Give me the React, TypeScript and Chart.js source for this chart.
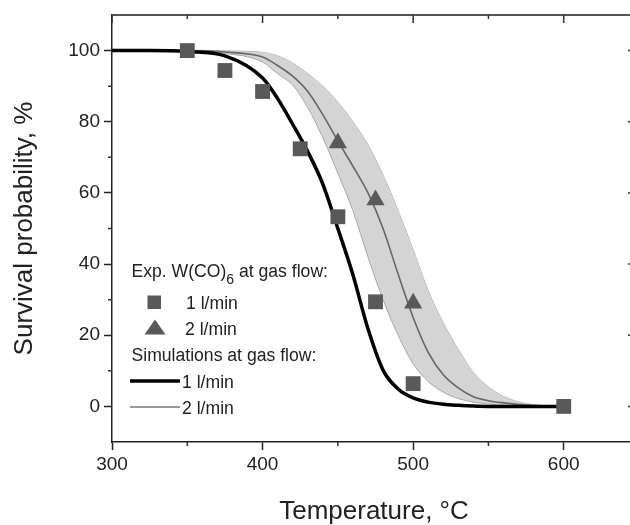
import React, { useEffect, useRef } from "react";
import { Chart, registerables } from "chart.js";
Chart.register(...registerables);

// ---- data ----
const xTickValues = [300, 400, 500, 600];
const xMinorTicks = [350, 450, 550];
const yTickValues = [0, 20, 40, 60, 80, 100];
const yMinorTicks = [10, 30, 50, 70, 90];

// experimental points
const expTemp1 = [350, 375, 400, 425, 450, 475, 500, 600];
const expSurv1 = [100, 94.4, 88.5, 72.4, 53.3, 29.4, 6.4, 0];
const expTemp2 = [450, 475, 500];
const expSurv2 = [74, 58, 29];

// simulation curves, read at these temperatures
const simTemp = [300, 325, 350, 375, 400, 410, 420, 430, 440, 450, 460, 470, 480, 490, 500, 510, 520, 530, 540, 550, 560, 575, 600];
const sim1 = [100, 100, 99.7, 98.5, 92.3, 86.5, 79.3, 71.6, 62.5, 50, 37, 21.8, 10.2, 4.9, 2.4, 1.2, 0.6, 0.3, 0.1, 0, 0, 0, 0];
const sim2 = [100, 100, 100, 99.6, 98.2, 95.8, 92.8, 88.5, 82, 74.6, 67.5, 60, 50, 37.2, 25, 15.2, 8.9, 5.2, 2.7, 1.6, 1, 0.4, 0];
const sim2Upper = [100, 100, 100, 99.9, 99.5, 98.5, 96.5, 93.5, 90, 85.5, 80, 73.5, 65, 55, 44, 32.5, 23.5, 16, 9.5, 5.5, 2.8, 0.8, 0];
const sim2Lower = [100, 100, 99.9, 99.2, 96.8, 93.5, 90.3, 84, 75.5, 65.5, 55, 42, 30, 20, 12, 7, 4, 2.2, 1.2, 0.7, 0.3, 0.1, 0];

const FONT = 'Arial, "Liberation Sans", sans-serif';
const TEXT = "#222";
const MARK = "#595959";

const pts = (xs: number[], ys: number[]) => xs.map((x, i) => ({ x, y: ys[i] }));

const extrasPlugin = {
  id: "extras",
  afterDraw(chart: any) {
    const { ctx, chartArea: a, scales } = chart;
    const xs = scales.x;
    const ys = scales.y;
    ctx.save();
    // top axis
    ctx.strokeStyle = "#555";
    ctx.lineWidth = 2;
    ctx.beginPath();
    ctx.moveTo(a.left, a.top);
    ctx.lineTo(a.right, a.top);
    ctx.stroke();
    ctx.strokeStyle = "#222";
    ctx.lineWidth = 1.5;
    ctx.beginPath();
    ctx.moveTo(a.right, a.top);
    ctx.lineTo(a.right, a.bottom);
    ctx.stroke();
    ctx.lineWidth = 1.5;
    ctx.strokeStyle = "#333";
    ctx.beginPath();
    for (const v of xTickValues) {
      const px = xs.getPixelForValue(v);
      ctx.moveTo(px, a.top);
      ctx.lineTo(px, a.top + 8);
    }
    for (const v of xMinorTicks) {
      const px = xs.getPixelForValue(v);
      ctx.moveTo(px, a.top);
      ctx.lineTo(px, a.top + 4);
      ctx.moveTo(px, a.bottom);
      ctx.lineTo(px, a.bottom + 4);
    }
    for (const v of yTickValues) {
      const py = ys.getPixelForValue(v);
      ctx.moveTo(a.right, py);
      ctx.lineTo(a.right - 8, py);
    }
    for (const v of yMinorTicks) {
      const py = ys.getPixelForValue(v);
      ctx.moveTo(a.left, py);
      ctx.lineTo(a.left - 4, py);
      ctx.moveTo(a.right, py);
      ctx.lineTo(a.right - 4, py);
    }
    ctx.stroke();

    // legend
    const lx = a.left + 19.5;
    ctx.fillStyle = TEXT;
    ctx.textAlign = "left";
    ctx.textBaseline = "alphabetic";
    ctx.font = `17.6px ${FONT}`;
    let t = "Exp. W(CO)";
    ctx.fillText(t, lx, 277);
    let w = ctx.measureText(t).width;
    ctx.font = `14px ${FONT}`;
    ctx.fillText("6", lx + w, 283.5);
    const w6 = ctx.measureText("6").width;
    ctx.font = `17.6px ${FONT}`;
    ctx.fillText(" at gas flow:", lx + w + w6, 277);

    ctx.fillStyle = MARK;
    ctx.fillRect(147.5, 295.5, 13.5, 13.5);
    ctx.beginPath();
    ctx.moveTo(155, 319.5);
    ctx.lineTo(165.5, 334.5);
    ctx.lineTo(144.5, 334.5);
    ctx.closePath();
    ctx.fill();
    ctx.fillStyle = TEXT;
    ctx.fillText("1 l/min", 186, 308.5);
    ctx.fillText("2 l/min", 185, 334.5);
    ctx.fillText("Simulations at gas flow:", lx, 361);

    ctx.strokeStyle = "#000";
    ctx.lineWidth = 3.5;
    ctx.beginPath();
    ctx.moveTo(130, 381);
    ctx.lineTo(180, 381);
    ctx.stroke();
    ctx.strokeStyle = "#777";
    ctx.lineWidth = 1.5;
    ctx.beginPath();
    ctx.moveTo(130, 407);
    ctx.lineTo(180, 407);
    ctx.stroke();
    ctx.fillText("1 l/min", 182, 388);
    ctx.fillText("2 l/min", 182, 414);
    ctx.restore();
  },
};

export default function App() {
  const ref = useRef<HTMLCanvasElement | null>(null);
  useEffect(() => {
    const canvas = ref.current!;
    const lineCommon = {
      pointRadius: 0,
      cubicInterpolationMode: "monotone" as const,
      showLine: true,
    };
    const chart = new Chart(canvas, {
      type: "line",
      data: {
        datasets: [
          {
            ...lineCommon,
            data: pts(simTemp, sim2Upper),
            borderColor: "#a8a8a8",
            borderWidth: 1,
            fill: false,
            order: 6,
          },
          {
            ...lineCommon,
            data: pts(simTemp, sim2Lower),
            borderColor: "#a8a8a8",
            borderWidth: 1,
            backgroundColor: "#d4d4d4",
            fill: "-1",
            order: 5,
          },
          {
            ...lineCommon,
            data: pts(simTemp, sim2),
            borderColor: "#666",
            borderWidth: 1.6,
            fill: false,
            order: 4,
          },
          {
            ...lineCommon,
            data: pts(simTemp, sim1),
            borderColor: "#000",
            borderWidth: 3.5,
            fill: false,
            order: 3,
          },
          {
            data: pts(expTemp1, expSurv1),
            showLine: false,
            pointStyle: "rect",
            pointRadius: 10.5,
            pointBackgroundColor: MARK,
            pointBorderWidth: 0,
            borderColor: MARK,
            order: 2,
          },
          {
            data: pts(expTemp2, expSurv2),
            showLine: false,
            pointStyle: "triangle",
            pointRadius: 10.5,
            pointBackgroundColor: MARK,
            pointBorderWidth: 0,
            borderColor: MARK,
            order: 1,
          },
        ],
      },
      options: {
        animation: false,
        responsive: false,
        devicePixelRatio: 1,
        layout: { autoPadding: false, padding: { top: 15, right: 4, left: 0, bottom: 0 } },
        plugins: { legend: { display: false }, tooltip: { enabled: false } },
        scales: {
          x: {
            type: "linear",
            min: 300,
            max: 648,
            afterFit(s: any) {
              s.height = 83;
              s.paddingLeft = 0;
              s.paddingRight = 0;
            },
            afterBuildTicks(s: any) {
              s.ticks = xTickValues.map((v) => ({ value: v }));
            },
            ticks: {
              font: { family: FONT, size: 19 },
              color: TEXT,
              padding: 3,
              maxRotation: 0,
            },
            grid: {
              display: true,
              drawOnChartArea: false,
              drawTicks: true,
              tickLength: 8,
              tickColor: "#222",
              tickWidth: 1.5,
            },
            border: { display: true, color: "#222", width: 1.5 },
            title: {
              display: true,
              text: "Temperature, °C",
              color: TEXT,
              font: { family: FONT, size: 26, lineHeight: 1 },
              padding: { top: 0, bottom: 0 },
            },
          },
          y: {
            type: "linear",
            min: -10,
            max: 110,
            afterFit(s: any) {
              s.width = 112;
              s.paddingTop = 0;
              s.paddingBottom = 0;
            },
            afterBuildTicks(s: any) {
              s.ticks = yTickValues.map((v) => ({ value: v }));
            },
            ticks: {
              font: { family: FONT, size: 19 },
              color: TEXT,
              padding: 4,
            },
            grid: {
              display: true,
              drawOnChartArea: false,
              drawTicks: true,
              tickLength: 8,
              tickColor: "#222",
              tickWidth: 1.5,
            },
            border: { display: true, color: "#222", width: 1.5 },
            title: {
              display: true,
              text: "Survival probability, %",
              color: TEXT,
              font: { family: FONT, size: 26, lineHeight: 1 },
              padding: { top: 12, bottom: 0 },
            },
          },
        },
      },
      plugins: [extrasPlugin],
    });
    return () => chart.destroy();
  }, []);
  return (
    <div style={{ position: "absolute", left: 0, top: 0, width: 630, height: 525, overflow: "hidden", background: "#fff" }}>
      <canvas ref={ref} width={640} height={525} style={{ width: 640, height: 525, display: "block" }} />
    </div>
  );
}
